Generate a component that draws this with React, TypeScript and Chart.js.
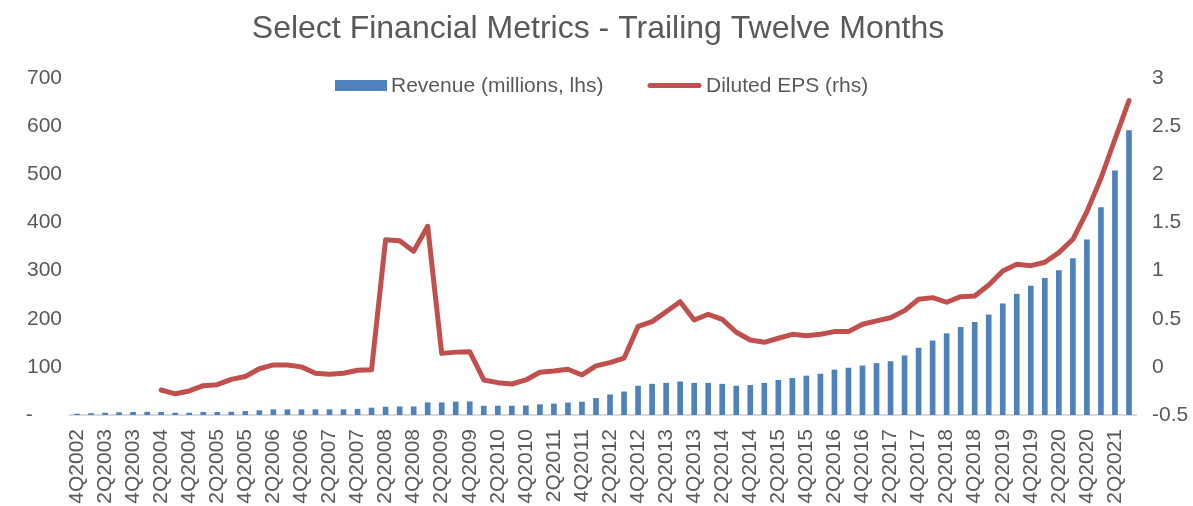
import React, { useEffect, useRef } from "react";
import { Chart, registerables } from "chart.js";

Chart.register(...registerables);

const quarters: string[] = [
  "4Q2002",
  "1Q2003", "2Q2003", "3Q2003", "4Q2003",
  "1Q2004", "2Q2004", "3Q2004", "4Q2004",
  "1Q2005", "2Q2005", "3Q2005", "4Q2005",
  "1Q2006", "2Q2006", "3Q2006", "4Q2006",
  "1Q2007", "2Q2007", "3Q2007", "4Q2007",
  "1Q2008", "2Q2008", "3Q2008", "4Q2008",
  "1Q2009", "2Q2009", "3Q2009", "4Q2009",
  "1Q2010", "2Q2010", "3Q2010", "4Q2010",
  "1Q2011", "2Q2011", "3Q2011", "4Q2011",
  "1Q2012", "2Q2012", "3Q2012", "4Q2012",
  "1Q2013", "2Q2013", "3Q2013", "4Q2013",
  "1Q2014", "2Q2014", "3Q2014", "4Q2014",
  "1Q2015", "2Q2015", "3Q2015", "4Q2015",
  "1Q2016", "2Q2016", "3Q2016", "4Q2016",
  "1Q2017", "2Q2017", "3Q2017", "4Q2017",
  "1Q2018", "2Q2018", "3Q2018", "4Q2018",
  "1Q2019", "2Q2019", "3Q2019", "4Q2019",
  "1Q2020", "2Q2020", "3Q2020", "4Q2020",
  "1Q2021", "2Q2021", "3Q2021",
];

const revenue: number[] = [
  2, 3, 4, 5, 5.5, 6, 5.5, 4, 4, 5.5,
  5.5, 6, 7.5, 9, 11, 11, 11, 11, 11, 11,
  12, 14.5, 16.5, 17, 17, 25.5, 25.5, 27, 27.5, 18.5,
  18.5, 18.5, 19, 21.5, 23, 25, 27, 34.5, 42, 48,
  60, 64, 66, 69, 66, 66, 64, 60, 61.5, 66,
  72, 76, 81, 85, 93.5, 97.5, 102, 107, 111, 123,
  139, 154, 169, 182, 192.5, 208, 231, 251, 268, 284,
  300, 325, 364, 431, 507, 591,
];

const eps: (number | null)[] = [
  null, null, null, null, null, null, -0.24, -0.28, -0.25, -0.195,
  -0.185, -0.13, -0.1, -0.02, 0.02, 0.02, 0.0, -0.067, -0.077, -0.067,
  -0.035, -0.03, 1.32, 1.31, 1.2, 1.46, 0.14, 0.153, 0.158, -0.136,
  -0.164, -0.178, -0.136, -0.056, -0.043, -0.025, -0.084, 0.01, 0.044, 0.09,
  0.42, 0.47, 0.573, 0.677, 0.487, 0.546, 0.494, 0.359, 0.279, 0.255,
  0.297, 0.338, 0.324, 0.338, 0.366, 0.366, 0.442, 0.477, 0.51, 0.584,
  0.702, 0.719, 0.671, 0.729, 0.736, 0.85, 0.996, 1.065, 1.051, 1.086,
  1.186, 1.325, 1.612, 1.959, 2.364, 2.765,
];

const titleText = "Select Financial Metrics - Trailing Twelve Months";
const revenueLabel = "Revenue (millions, lhs)";
const epsLabel = "Diluted EPS (rhs)";

const BLUE = "#4F81BD";
const RED = "#C0504D";
const TEXT = "#595959";
const FONT = "'Liberation Sans', Arial, sans-serif";

const overlayPlugin = {
  id: "overlay",
  afterDraw(chart: any) {
    const ctx = chart.ctx as CanvasRenderingContext2D;
    ctx.save();
    ctx.fillStyle = TEXT;
    ctx.font = `32px ${FONT}`;
    ctx.textAlign = "center";
    ctx.textBaseline = "middle";
    ctx.fillText(titleText, 598, 29);

    ctx.font = `21px ${FONT}`;
    ctx.textAlign = "left";
    ctx.fillStyle = BLUE;
    ctx.fillRect(335, 80, 52, 11);
    ctx.fillStyle = TEXT;
    ctx.fillText(revenueLabel, 391, 86);

    ctx.strokeStyle = RED;
    ctx.lineWidth = 5;
    ctx.lineCap = "round";
    ctx.beginPath();
    ctx.moveTo(650, 85.5);
    ctx.lineTo(699, 85.5);
    ctx.stroke();
    ctx.fillText(epsLabel, 706, 86);
    ctx.restore();
  },
};

export default function App() {
  const ref = useRef<HTMLCanvasElement | null>(null);

  useEffect(() => {
    if (!ref.current) return;
    const chart = new Chart(ref.current, {
      type: "bar",
      data: {
        labels: quarters,
        datasets: [
          {
            type: "line",
            label: epsLabel,
            data: eps,
            yAxisID: "y1",
            borderColor: RED,
            backgroundColor: RED,
            borderWidth: 5,
            pointRadius: 0,
            tension: 0,
            borderJoinStyle: "round",
            borderCapStyle: "round",
            spanGaps: false,
            order: 0,
          } as any,
          {
            type: "bar",
            label: revenueLabel,
            data: revenue,
            yAxisID: "y",
            backgroundColor: BLUE,
            barThickness: 5,
            order: 1,
          } as any,
        ],
      },
      options: {
        responsive: false,
        animation: false,
        layout: { padding: { top: 78, left: 0, right: 0, bottom: 0 } },
        plugins: {
          legend: { display: false },
          title: { display: false },
          tooltip: { enabled: false },
        },
        scales: {
          x: {
            grid: { display: false, drawTicks: false },
            border: { display: true, color: "#D9D9D9", width: 2 },
            ticks: {
              autoSkip: false,
              maxRotation: 90,
              minRotation: 90,
              padding: 14,
              color: TEXT,
              font: { family: FONT, size: 21 },
              callback: (_v: any, i: number) => (i % 2 === 0 ? quarters[i] : ""),
            },
            afterFit: (s: any) => {
              s.height = 91;
            },
          },
          y: {
            position: "left",
            min: 0,
            max: 700,
            grid: { display: false, drawTicks: false },
            border: { display: false },
            ticks: {
              stepSize: 100,
              padding: 8,
              color: TEXT,
              font: { family: FONT, size: 21 },
              callback: (v: any) => (Number(v) === 0 ? "-     " : String(v)),
            },
            afterFit: (s: any) => {
              s.width = 70;
            },
          },
          y1: {
            position: "right",
            min: -0.5,
            max: 3,
            grid: { display: false, drawTicks: false },
            border: { display: false },
            ticks: {
              stepSize: 0.5,
              padding: 16,
              color: TEXT,
              font: { family: FONT, size: 21 },
              callback: (v: any) => String(Math.round(Number(v) * 10) / 10),
            },
            afterFit: (s: any) => {
              s.width = 57;
            },
          },
        },
      },
      plugins: [overlayPlugin],
    });
    return () => chart.destroy();
  }, []);

  return (
    <div style={{ position: "absolute", left: 0, top: 0, width: 1193, height: 506, background: "#fff" }}>
      <canvas ref={ref} width={1193} height={506} />
    </div>
  );
}
